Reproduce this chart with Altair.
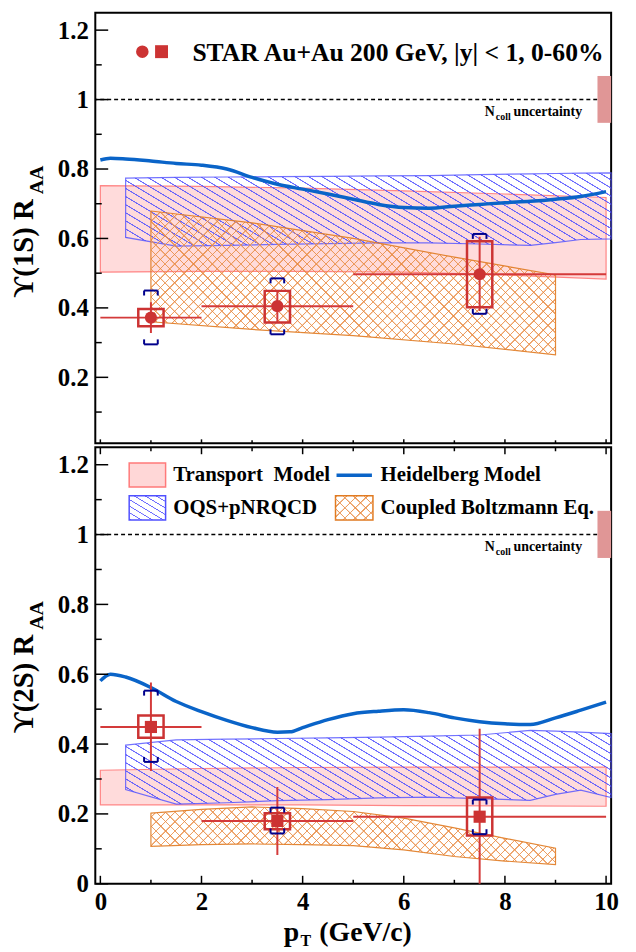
import altair as alt
import pandas as pd

# ---------------- data ----------------
# Upsilon(1S)
s1_x = [1.0, 3.5, 7.5]
s1_xlo = [0.0, 2.0, 5.0]
s1_xhi = [2.0, 5.0, 10.0]
s1_y = [0.372, 0.405, 0.497]
s1_stat_lo = [0.328, 0.359, 0.391]
s1_stat_hi = [0.416, 0.448, 0.605]
s1_sys_lo = [0.347, 0.358, 0.402]
s1_sys_hi = [0.397, 0.449, 0.592]
s1_glob_lo = [0.295, 0.324, 0.383]
s1_glob_hi = [0.450, 0.485, 0.613]

# Upsilon(2S)
s2_x = [1.0, 3.5, 7.5]
s2_xlo = [0.0, 2.0, 5.0]
s2_xhi = [2.0, 5.0, 10.0]
s2_y = [0.449, 0.180, 0.192]
s2_stat_lo = [0.323, 0.082, -0.06]
s2_stat_hi = [0.576, 0.277, 0.444]
s2_sys_lo = [0.418, 0.156, 0.138]
s2_sys_hi = [0.482, 0.202, 0.247]
s2_glob_lo = [0.349, 0.144, 0.142]
s2_glob_hi = [0.553, 0.218, 0.241]

# Transport model
tr_x = [0.0, 2.0, 4.0, 6.0, 8.0, 10.0]
tr1_hi = [0.752, 0.750, 0.745, 0.737, 0.728, 0.718]
tr1_lo = [0.503, 0.505, 0.505, 0.503, 0.495, 0.483]
tr2_hi = [0.325, 0.330, 0.333, 0.334, 0.334, 0.334]
tr2_lo = [0.226, 0.226, 0.226, 0.224, 0.223, 0.222]

# OQS+pNRQCD
oqs_x = [0.5, 1.5, 2.5, 3.5, 4.5, 5.5, 6.5, 7.5, 8.5, 9.0, 9.5, 10.1]
oqs1_hi = [0.774, 0.776, 0.777, 0.778, 0.779, 0.780, 0.781, 0.784, 0.786, 0.787, 0.788, 0.789]
oqs1_lo = [0.603, 0.578, 0.580, 0.583, 0.585, 0.587, 0.587, 0.584, 0.580, 0.588, 0.597, 0.599]
oqs2_hi = [0.397, 0.412, 0.414, 0.416, 0.418, 0.420, 0.423, 0.426, 0.439, 0.437, 0.434, 0.430]
oqs2_lo = [0.270, 0.228, 0.232, 0.238, 0.241, 0.246, 0.248, 0.244, 0.239, 0.256, 0.268, 0.247]

# Coupled Boltzmann Eq.
cb1_x = [1.0, 3.0, 5.0, 7.0, 9.0]
cb1_hi = [0.679, 0.645, 0.600, 0.546, 0.495]
cb1_lo = [0.360, 0.338, 0.320, 0.296, 0.265]
cb2_x = [1.0, 2.0, 3.0, 4.0, 5.0, 6.0, 7.0, 8.0, 9.0]
cb2_hi = [0.202, 0.213, 0.220, 0.215, 0.207, 0.188, 0.160, 0.130, 0.102]
cb2_lo = [0.107, 0.112, 0.114, 0.112, 0.109, 0.097, 0.078, 0.065, 0.055]

# Heidelberg model
hd_x = [0.0, 0.2, 0.5, 1.0, 1.5, 2.0, 2.5, 3.0, 3.5, 4.0, 4.5, 5.0, 5.5, 6.0, 6.5,
        7.0, 7.5, 8.0, 8.5, 9.0, 9.5, 10.0]
hd1_y = [0.826, 0.831, 0.829, 0.823, 0.816, 0.811, 0.800, 0.776, 0.756, 0.742, 0.728,
         0.713, 0.698, 0.689, 0.687, 0.693, 0.698, 0.703, 0.707, 0.713, 0.721, 0.735]
hd2_x = [0.0, 0.2, 0.5, 1.0, 1.5, 2.0, 2.5, 3.0, 3.5, 3.75, 4.0, 4.5, 5.0, 5.5, 6.0,
         6.5, 7.0, 7.5, 8.0, 8.5, 9.0, 9.5, 10.0]
hd2_y = [0.581, 0.600, 0.592, 0.562, 0.522, 0.493, 0.468, 0.447, 0.434, 0.435, 0.447,
         0.470, 0.487, 0.494, 0.498, 0.490, 0.475, 0.464, 0.458, 0.456, 0.475, 0.497, 0.520]

# N_coll uncertainty
ncoll_lo, ncoll_hi = 0.933, 1.068

# axis tick values
y_major_top = [0.2, 0.4, 0.6, 0.8, 1.0, 1.2]
y_major_bot = [0.0, 0.2, 0.4, 0.6, 0.8, 1.0, 1.2]
y_minor = [0.1, 0.3, 0.5, 0.7, 0.9, 1.1]
x_major = [0, 2, 4, 6, 8, 10]
x_minor = [1, 3, 5, 7, 9]

# ---------------- style / layout ----------------
FONT = "Liberation Serif"
RED = "#cc3333"
BRK = "#00008c"
HEID = "#0a64c8"
TR_FILL = "#ff9c9c"
TR_STROKE = "#ff7a7a"
OQS_LINE = "rgba(70,70,255,0.8)"
OQS_STROKE = "#5050ff"
CB_LINE = "rgba(232,135,60,0.8)"
CB_STROKE = "#e07a20"

XDOM = [-0.1, 10.1]
PW = 520
TOP_H, TOP_DOM = 434, [0.01, 1.25]
BOT_H, BOT_DOM = 440, [0.0, 1.25]
PX = PW / (XDOM[1] - XDOM[0])
BOX_HW = 0.25
BRK_HW = 0.135


def hatch(W, H, spacing, lw, color, direction, slope=1.0):
    """Stripe fill built from a linear gradient (bounding-box units).
    spacing / lw are horizontal pixel distances, slope = dY/dX of the lines."""
    s = slope
    n = max(1, int(round((s * W + H) / (s * spacing))))
    k = (s * W + H) / ((s * W) ** 2 + H * H)
    if direction == "back":
        x1, y1, x2, y2 = 0, 1, k * s * W, 1 - k * H
    else:
        x1, y1, x2, y2 = 0, 0, k * s * W, k * H
    bg = "rgba(255,255,255,0)"
    P = 1.0 / n
    w = min(0.9, lw / spacing) * P
    stops = []
    for i in range(n):
        a = i * P
        stops += [(a, bg), (a + 0.25 * w, color), (a + 0.75 * w, color), (a + w, bg)]
    stops.append((1.0, bg))
    return {"gradient": "linear", "x1": x1, "y1": y1, "x2": x2, "y2": y2,
            "stops": [{"offset": round(o, 6), "color": c} for o, c in stops]}


OQS_SP, OQS_LW, OQS_SLOPE = 13.5, 3.2, 0.6
CB_SP, CB_LW = 9.5, 2.0


def build_panel(H, ydom, pts, shape, tr, oqs, cb, hd, ylabels, title_main, show_x):
    PY = H / (ydom[1] - ydom[0])
    xaxis = None
    if show_x:
        xaxis = alt.Axis(values=x_major, format="d", ticks=False, domain=False, grid=False,
                         labelPadding=6, labelFlush=False, title=None)
    yaxis = alt.Axis(values=ylabels, format=".2~f", ticks=False, domain=False, grid=False,
                     labelPadding=7, title=None)
    xs = alt.Scale(domain=XDOM, nice=False, zero=False)
    ys = alt.Scale(domain=ydom, nice=False, zero=False)

    def X(f):
        return alt.X(f, type="quantitative", scale=xs, axis=xaxis, title=None)

    def Y(f):
        return alt.Y(f, type="quantitative", scale=ys, axis=yaxis, title=None)

    layers = []

    # --- model bands ---
    trdf = pd.DataFrame({"x": tr[0], "hi": tr[1], "lo": tr[2]})
    layers.append(alt.Chart(trdf).mark_area(fill=TR_FILL, fillOpacity=0.36, stroke=TR_STROKE,
                                            strokeWidth=1.2, strokeOpacity=0.9)
                  .encode(x=X("x"), y=Y("hi"), y2=alt.Y2("lo")))

    oqdf = pd.DataFrame({"x": oqs[0], "hi": oqs[1], "lo": oqs[2]})
    W = (max(oqs[0]) - min(oqs[0])) * PX
    Hh = (max(oqs[1]) - min(oqs[2])) * PY
    layers.append(alt.Chart(oqdf).mark_area(
        fill=hatch(W, Hh, OQS_SP, OQS_LW, OQS_LINE, "back", OQS_SLOPE),
        stroke=OQS_STROKE, strokeWidth=1.2, strokeOpacity=0.8)
        .encode(x=X("x"), y=Y("hi"), y2=alt.Y2("lo")))

    cbdf = pd.DataFrame({"x": cb[0], "hi": cb[1], "lo": cb[2]})
    W = (max(cb[0]) - min(cb[0])) * PX
    Hh = (max(cb[1]) - min(cb[2])) * PY
    layers.append(alt.Chart(cbdf).mark_area(fill=hatch(W, Hh, CB_SP, CB_LW, CB_LINE, "fwd"),
                                            stroke=CB_STROKE, strokeWidth=1.2, strokeOpacity=0.9)
                  .encode(x=X("x"), y=Y("hi"), y2=alt.Y2("lo")))
    layers.append(alt.Chart(cbdf).mark_area(fill=hatch(W, Hh, CB_SP, CB_LW, CB_LINE, "back"))
                  .encode(x=X("x"), y=Y("hi"), y2=alt.Y2("lo")))

    hddf = pd.DataFrame({"x": hd[0], "y": hd[1]})
    layers.append(alt.Chart(hddf).mark_line(color=HEID, strokeWidth=3.5, interpolate="monotone")
                  .encode(x=X("x"), y=Y("y")))

    # --- unity line and N_coll box ---
    one = pd.DataFrame({"y": [1.0]})
    layers.append(alt.Chart(one).mark_rule(color="black", strokeWidth=1.6, strokeDash=[4, 3])
                  .encode(y=Y("y")))
    ncdf = pd.DataFrame({"x": [9.83], "x2": [XDOM[1]], "lo": [ncoll_lo], "hi": [ncoll_hi]})
    layers.append(alt.Chart(ncdf).mark_rect(color="#e09696")
                  .encode(x=X("x"), x2=alt.X2("x2"), y=Y("lo"), y2=alt.Y2("hi")))
    nct = pd.DataFrame({"x": [7.6, 8.17], "y": [0.954, 0.954], "label": ["N", "uncertainty"]})
    layers.append(alt.Chart(nct).mark_text(font=FONT, fontWeight="bold", fontSize=14, align="left",
                                           baseline="alphabetic", color="black")
                  .encode(x=X("x"), y=Y("y"), text="label:N"))
    ncs = pd.DataFrame({"x": [7.82], "y": [0.954 - 4.5 / PY], "label": ["coll"]})
    layers.append(alt.Chart(ncs).mark_text(font=FONT, fontWeight="bold", fontSize=10, align="left",
                                           baseline="alphabetic", color="black")
                  .encode(x=X("x"), y=Y("y"), text="label:N"))

    # --- data points ---
    x, xlo, xhi, y, slo, shi, ylo, yhi, glo, ghi = pts
    leg = 5.0 / PY
    pdf = pd.DataFrame({"x": x, "xlo": xlo, "xhi": xhi, "y": y, "slo": slo, "shi": shi,
                        "ylo": ylo, "yhi": yhi, "glo": glo, "ghi": ghi})
    pdf["bl"] = pdf["x"] - BOX_HW
    pdf["br"] = pdf["x"] + BOX_HW
    pdf["kl"] = pdf["x"] - BRK_HW
    pdf["kr"] = pdf["x"] + BRK_HW
    legs = []
    for i in range(len(x)):
        for xx in (x[i] - BRK_HW, x[i] + BRK_HW):
            legs.append({"x": xx, "a": ghi[i], "b": ghi[i] - leg})
            legs.append({"x": xx, "a": glo[i], "b": glo[i] + leg})
    legdf = pd.DataFrame(legs)

    layers.append(alt.Chart(pdf).mark_rule(color="#d43a3a", strokeWidth=2)
                  .encode(x=X("xlo"), x2=alt.X2("xhi"), y=Y("y")))
    layers.append(alt.Chart(pdf).mark_rule(color="#d43a3a", strokeWidth=2, clip=True)
                  .encode(x=X("x"), y=Y("slo"), y2=alt.Y2("shi")))
    layers.append(alt.Chart(pdf).mark_rect(fill="white", fillOpacity=0, stroke="#cc3333",
                                           strokeWidth=2.5)
                  .encode(x=X("bl"), x2=alt.X2("br"), y=Y("ylo"), y2=alt.Y2("yhi")))
    layers.append(alt.Chart(pdf).mark_rule(color=BRK, strokeWidth=2)
                  .encode(x=X("kl"), x2=alt.X2("kr"), y=Y("ghi")))
    layers.append(alt.Chart(pdf).mark_rule(color=BRK, strokeWidth=2)
                  .encode(x=X("kl"), x2=alt.X2("kr"), y=Y("glo")))
    layers.append(alt.Chart(legdf).mark_rule(color=BRK, strokeWidth=2)
                  .encode(x=X("x"), y=Y("a"), y2=alt.Y2("b")))
    layers.append(alt.Chart(pdf).mark_point(shape=shape, filled=True, size=150, color=RED, opacity=1)
                  .encode(x=X("x"), y=Y("y")))

    # --- inner ticks ---
    def ytick(vals, length):
        d = pd.DataFrame({"v": [v for v in vals if ydom[0] <= v <= ydom[1]]})
        return alt.Chart(d).mark_rule(color="black", strokeWidth=1.5).encode(
            y=Y("v"), x=alt.value(0), x2=alt.value(length))

    layers.append(ytick(ylabels, 13))
    layers.append(ytick(y_minor, 6.5))

    def xtick(vals, y0, y1):
        d = pd.DataFrame({"v": vals})
        return alt.Chart(d).mark_rule(color="black", strokeWidth=1.5).encode(
            x=X("v"), y=alt.value(y0), y2=alt.value(y1))

    if show_x:
        layers.append(xtick(x_major, H, H - 8))
        layers.append(xtick(x_minor, H, H - 4))
        layers.append(xtick(x_major, 0, 7))
        layers.append(xtick(x_minor, 0, 4))
    else:
        layers.append(xtick(x_major, H, H - 4))
        layers.append(xtick(x_minor, H, H - 3))

    # --- y title (with subscript) ---
    yt_main = 0.713
    tm = pd.DataFrame({"y": [yt_main], "label": [title_main]})
    layers.append(alt.Chart(tm).mark_text(font=FONT, fontWeight="bold", fontSize=29, angle=270,
                                          align="right", baseline="alphabetic", color="black")
                  .encode(x=alt.value(-63), y=Y("y"), text="label:N"))
    ts = pd.DataFrame({"y": [yt_main + 5.0 / PY], "label": ["AA"]})
    layers.append(alt.Chart(ts).mark_text(font=FONT, fontWeight="bold", fontSize=20, angle=270,
                                          align="left", baseline="alphabetic", color="black")
                  .encode(x=alt.value(-53), y=Y("y"), text="label:N"))

    return layers, X, Y, PY


# ---------------- top panel ----------------
top_layers, Xt, Yt, PYt = build_panel(
    TOP_H, TOP_DOM,
    (s1_x, s1_xlo, s1_xhi, s1_y, s1_stat_lo, s1_stat_hi, s1_sys_lo, s1_sys_hi, s1_glob_lo, s1_glob_hi),
    "circle", (tr_x, tr1_hi, tr1_lo), (oqs_x, oqs1_hi, oqs1_lo), (cb1_x, cb1_hi, cb1_lo),
    (hd_x, hd1_y), y_major_top, "\u03d2(1S) R", False)

# STAR legend
mk_c = pd.DataFrame({"x": [0.83], "y": [1.138]})
mk_s = pd.DataFrame({"x": [1.21], "y": [1.138]})
top_layers.append(alt.Chart(mk_c).mark_point(shape="circle", filled=True, size=160, color=RED, opacity=1)
                  .encode(x=Xt("x"), y=Yt("y")))
top_layers.append(alt.Chart(mk_s).mark_point(shape="square", filled=True, size=170, color=RED, opacity=1)
                  .encode(x=Xt("x"), y=Yt("y")))
star = pd.DataFrame({"x": [1.82], "y": [1.112], "label": ["STAR Au+Au 200 GeV, |y| < 1, 0-60%"]})
top_layers.append(alt.Chart(star).mark_text(font=FONT, fontWeight="bold", fontSize=25.8, align="left",
                                            baseline="alphabetic", color="black")
                  .encode(x=Xt("x"), y=Yt("y"), text="label:N"))

top = alt.layer(*top_layers).properties(width=PW, height=TOP_H)

# ---------------- bottom panel ----------------
bot_layers, Xb, Yb, PYb = build_panel(
    BOT_H, BOT_DOM,
    (s2_x, s2_xlo, s2_xhi, s2_y, s2_stat_lo, s2_stat_hi, s2_sys_lo, s2_sys_hi, s2_glob_lo, s2_glob_hi),
    "square", (tr_x, tr2_hi, tr2_lo), (oqs_x, oqs2_hi, oqs2_lo), (cb2_x, cb2_hi, cb2_lo),
    (hd2_x, hd2_y), y_major_bot, "\u03d2(2S) R", True)

# legend swatches
sw_w = (1.29 - 0.57) * PX
sw_h = (1.205 - 1.136) * PYb
sw_tr = pd.DataFrame({"x": [0.57], "x2": [1.29], "lo": [1.136], "hi": [1.205]})
sw_oq = pd.DataFrame({"x": [0.57], "x2": [1.29], "lo": [1.042], "hi": [1.111]})
sw_cb = pd.DataFrame({"x": [4.65], "x2": [5.39], "lo": [1.042], "hi": [1.111]})
sw_hd = pd.DataFrame({"x": [4.67], "x2": [5.37], "y": [1.170]})
bot_layers.append(alt.Chart(sw_tr).mark_rect(fill=TR_FILL, fillOpacity=0.4, stroke=TR_STROKE,
                                             strokeWidth=1.5)
                  .encode(x=Xb("x"), x2=alt.X2("x2"), y=Yb("lo"), y2=alt.Y2("hi")))
bot_layers.append(alt.Chart(sw_oq).mark_rect(
    fill=hatch(sw_w, sw_h, OQS_SP * 0.8, OQS_LW * 0.8, OQS_LINE, "back", OQS_SLOPE),
    stroke=OQS_STROKE, strokeWidth=1.5)
    .encode(x=Xb("x"), x2=alt.X2("x2"), y=Yb("lo"), y2=alt.Y2("hi")))
bot_layers.append(alt.Chart(sw_cb).mark_rect(fill=hatch(sw_w, sw_h, CB_SP, CB_LW, CB_LINE, "fwd"),
                                             stroke=CB_STROKE, strokeWidth=1.5)
                  .encode(x=Xb("x"), x2=alt.X2("x2"), y=Yb("lo"), y2=alt.Y2("hi")))
bot_layers.append(alt.Chart(sw_cb).mark_rect(fill=hatch(sw_w, sw_h, CB_SP, CB_LW, CB_LINE, "back"))
                  .encode(x=Xb("x"), x2=alt.X2("x2"), y=Yb("lo"), y2=alt.Y2("hi")))
bot_layers.append(alt.Chart(sw_hd).mark_rule(color=HEID, strokeWidth=3.5)
                  .encode(x=Xb("x"), x2=alt.X2("x2"), y=Yb("y")))
leg_txt = pd.DataFrame({"x": [1.44, 5.54, 1.44, 5.54], "y": [1.170, 1.170, 1.077, 1.077],
                        "label": ["Transport\u00a0 Model", "Heidelberg Model", "OQS+pNRQCD",
                                  "Coupled Boltzmann Eq."]})
bot_layers.append(alt.Chart(leg_txt).mark_text(font=FONT, fontWeight="bold", fontSize=21, align="left",
                                               baseline="middle", color="black")
                  .encode(x=Xb("x"), y=Yb("y"), text="label:N"))

# x title with subscript
xt_main = pd.DataFrame({"x": [3.93], "label": ["p"]})
xt_sub = pd.DataFrame({"x": [3.96], "label": ["T"]})
xt_rest = pd.DataFrame({"x": [4.33], "label": ["(GeV/c)"]})
bot_layers.append(alt.Chart(xt_main).mark_text(font=FONT, fontWeight="bold", fontSize=28, align="right",
                                               baseline="alphabetic", color="black")
                  .encode(x=Xb("x"), y=alt.value(BOT_H + 58), text="label:N"))
bot_layers.append(alt.Chart(xt_sub).mark_text(font=FONT, fontWeight="bold", fontSize=16, align="left",
                                              baseline="alphabetic", color="black")
                  .encode(x=Xb("x"), y=alt.value(BOT_H + 63), text="label:N"))
bot_layers.append(alt.Chart(xt_rest).mark_text(font=FONT, fontWeight="bold", fontSize=28, align="left",
                                               baseline="alphabetic", color="black")
                  .encode(x=Xb("x"), y=alt.value(BOT_H + 58), text="label:N"))

bot = alt.layer(*bot_layers).properties(width=PW, height=BOT_H)

chart = (alt.vconcat(top, bot, spacing=0)
         .properties(padding={"left": 0, "top": 0, "right": 8, "bottom": 0}, background="white")
         .configure_view(stroke="black", strokeWidth=2)
         .configure_axis(labelFont=FONT, labelFontWeight="bold", labelFontSize=25, labelColor="black"))

chart.save("out.html", embed_options={"renderer": "svg", "actions": False})
